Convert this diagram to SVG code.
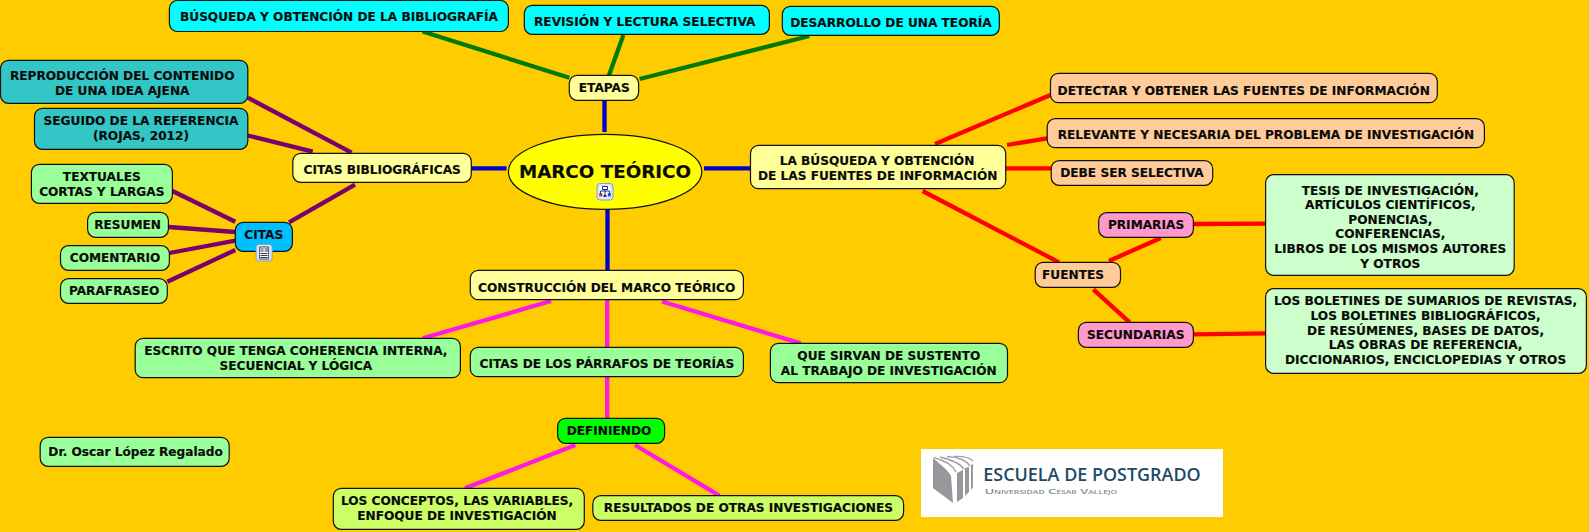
<svg xmlns="http://www.w3.org/2000/svg" xmlns:xlink="http://www.w3.org/1999/xlink" width="1589" height="532" viewBox="0 0 1589 532">
<style>
.n{stroke:#111;stroke-width:1.2}
.t{font-family:"DejaVu Sans","Liberation Sans",sans-serif;font-weight:700;font-size:12.15px;fill:#0a0a0a;text-anchor:middle;stroke:#0a0a0a;stroke-width:0.15}
.cy{fill:#00ffff}.te{fill:#33c6c6}.ye{fill:#ffff99}.gr{fill:#99ff99}.or{fill:#ffcc99}.pi{fill:#ff99cc}.mi{fill:#ccffcc}.li{fill:#ccff66}
.c{fill:none;stroke-width:4.300}
.bl{stroke:#0000cc}.gn{stroke:#007a00}.pu{stroke:#7a0070}.re{stroke:#ff0000}.ma{stroke:#ff19e6}
</style>
<defs>
<g id="ibase"><rect x="0.5" y="0.5" width="16" height="16.5" rx="3" fill="#dfeaff" stroke="#7f9fd0"/><rect x="2.5" y="2.5" width="12" height="12.5" rx="1" fill="#fff" stroke="#bcd0ea" stroke-width="0.6"/></g>
<g id="itree"><use xlink:href="#ibase"/><path d="M6 3.500h5v3H6zM8.500 6.500V8M4 8h9M4 8v2M13 8v2M8.500 8v5" fill="none" stroke="#1a2a88" stroke-width="1"/><rect x="2.800" y="10" width="3" height="3.500" fill="#c03030"/><rect x="11.300" y="10" width="3" height="3.500" fill="#3050c0"/><rect x="7" y="12" width="3" height="2" fill="#1a2a88"/></g>
<g id="idoc"><use xlink:href="#ibase"/><path d="M4 3h9v12H4z" fill="#fff" stroke="#222" stroke-width="0.8"/><rect x="9" y="4" width="3.500" height="4" fill="#7a9ac8"/><path d="M5 5h3M5 7h3M5 9.500h7M5 11.500h7M5 13.500h7" stroke="#222" stroke-width="0.9"/></g>
</defs>
<rect width="1589" height="532" fill="#ffcc00"/>
<g id="connectors">
<path class="c bl" d="M604.500 100V132M704 168.300H750.500M471 168.300H506.500M607.500 210V270.500"/>
<path class="c gn" d="M422.600 31.500L569.300 77.700M623.400 35L608.900 75.500M809.300 36L639.600 79"/>
<path class="c pu" d="M247.800 97.700L351.600 152.700M247.800 135.500L312.700 151.700M355 184.700L289 222.300M172.400 191L235.300 221.700M168.400 227L235.300 232M169.400 253L235.300 240.700M167.300 281.700L235.300 250"/>
<path class="c re" d="M935 144L1050.500 95M1007 145L1047.200 138.300M1005.700 168.300H1051.200M922.600 191L1059 262.300M1108.900 261L1160.800 238M1093.300 289.300L1129.600 322.300M1193.400 224L1265.600 223.700M1193.400 334.300L1265.600 333.300"/>
<path class="c ma" d="M551 301L422.600 338.300M607.200 300V347.300M607.200 376.700V418.300M662 301.500L800.700 343.300M575.400 445L465 488.300M635 445L719.300 495.700"/>
</g>
<g id="n-marco"><ellipse class="n" cx="605.100" cy="171.800" rx="96.700" ry="37.500" fill="#ffff00"/><text class="t" x="605" y="178.300" style="font-size:18.300px">MARCO TEÓRICO</text><use xlink:href="#itree" x="596.500" y="183"/></g>
<g id="n-busqueda-bib"><rect class="n cy" x="169.400" y="0.500" width="339" height="31" rx="8"/><text class="t" x="339" y="21">BÚSQUEDA Y OBTENCIÓN DE LA BIBLIOGRAFÍA</text></g>
<g id="n-revision"><rect class="n cy" x="524.300" y="5.300" width="245.100" height="29" rx="8"/><text class="t" x="644.700" y="26.300">REVISIÓN Y LECTURA SELECTIVA</text></g>
<g id="n-desarrollo"><rect class="n cy" x="782.300" y="6.300" width="217" height="29" rx="8"/><text class="t" x="891" y="27">DESARROLLO DE UNA TEORÍA</text></g>
<g id="n-etapas"><rect class="n ye" x="569.300" y="75.300" width="69.300" height="25" rx="8"/><text class="t" x="604.300" y="92">ETAPAS</text></g>
<g id="n-citas-bib"><rect class="n ye" x="292.800" y="153.300" width="178.500" height="29" rx="8"/><text class="t" x="382.200" y="174.300">CITAS BIBLIOGRÁFICAS</text></g>
<g id="n-reproduccion"><rect class="n te" x="0.500" y="60.300" width="247.300" height="43" rx="8"/><text class="t" x="122.200" y="80.300">REPRODUCCIÓN DEL CONTENIDO</text><text class="t" x="122.200" y="95">DE UNA IDEA AJENA</text></g>
<g id="n-seguido"><rect class="n te" x="34.500" y="108.300" width="213.300" height="41" rx="8"/><text class="t" x="141" y="125">SEGUIDO DE LA REFERENCIA</text><text class="t" x="141" y="139.700">(ROJAS, 2012)</text></g>
<g id="n-textuales"><rect class="n gr" x="31.400" y="164.300" width="141" height="39" rx="8"/><text class="t" x="101.800" y="181">TEXTUALES</text><text class="t" x="101.800" y="195.700">CORTAS Y LARGAS</text></g>
<g id="n-resumen"><rect class="n gr" x="87.600" y="212.300" width="80.800" height="25" rx="8"/><text class="t" x="127.600" y="229">RESUMEN</text></g>
<g id="n-comentario"><rect class="n gr" x="60.500" y="245.700" width="108.900" height="24.600" rx="8"/><text class="t" x="115.100" y="262">COMENTARIO</text></g>
<g id="n-parafraseo"><rect class="n gr" x="60.500" y="278.700" width="106.800" height="24.600" rx="8"/><text class="t" x="114.100" y="295">PARAFRASEO</text></g>
<g id="n-citas"><rect class="n" x="235.300" y="222.300" width="57.100" height="29" rx="8" fill="#00bfff"/><text class="t" x="263.700" y="239.300">CITAS</text><use xlink:href="#idoc" x="255.600" y="244"/></g>
<g id="n-construccion"><rect class="n ye" x="470.300" y="270.300" width="273.100" height="29.400" rx="8"/><text class="t" x="606.700" y="291.700">CONSTRUCCIÓN DEL MARCO TEÓRICO</text></g>
<g id="n-escrito"><rect class="n gr" x="135.200" y="338.300" width="325.200" height="39.400" rx="8"/><text class="t" x="295.800" y="355">ESCRITO QUE TENGA COHERENCIA INTERNA,</text><text class="t" x="295.800" y="369.700">SECUENCIAL Y LÓGICA</text></g>
<g id="n-citas-parrafos"><rect class="n gr" x="470.300" y="347.300" width="273.100" height="29.400" rx="8"/><text class="t" x="606.900" y="368.300">CITAS DE LOS PÁRRAFOS DE TEORÍAS</text></g>
<g id="n-sirvan"><rect class="n gr" x="770.400" y="343.300" width="237.100" height="39.400" rx="8"/><text class="t" x="888.800" y="360.300">QUE SIRVAN DE SUSTENTO</text><text class="t" x="888.800" y="374.700">AL TRABAJO DE INVESTIGACIÓN</text></g>
<g id="n-definiendo"><rect class="n" x="557.600" y="418.300" width="107" height="25" rx="8" fill="#00ff00"/><text class="t" x="609" y="435">DEFINIENDO</text></g>
<g id="n-conceptos"><rect class="n li" x="333.300" y="488.300" width="251" height="41" rx="8"/><text class="t" x="457" y="505">LOS CONCEPTOS, LAS VARIABLES,</text><text class="t" x="457" y="519.700">ENFOQUE DE INVESTIGACIÓN</text></g>
<g id="n-resultados"><rect class="n li" x="592.800" y="495.700" width="310.800" height="24.600" rx="8"/><text class="t" x="748.400" y="512">RESULTADOS DE OTRAS INVESTIGACIONES</text></g>
<g id="n-autor"><rect class="n gr" x="40.200" y="437.300" width="189" height="29" rx="8"/><text class="t" x="135.600" y="456">Dr. Oscar López Regalado</text></g>
<g id="n-busqueda-fuentes"><rect class="n ye" x="750.500" y="145.300" width="255.200" height="43.400" rx="8"/><text class="t" x="877" y="165.300">LA BÚSQUEDA Y OBTENCIÓN</text><text class="t" x="877.700" y="180">DE LAS FUENTES DE INFORMACIÓN</text></g>
<g id="n-detectar"><rect class="n or" x="1050.500" y="73.300" width="386.800" height="29.400" rx="8"/><text class="t" x="1243.700" y="94.700">DETECTAR Y OBTENER LAS FUENTES DE INFORMACIÓN</text></g>
<g id="n-relevante"><rect class="n or" x="1047.200" y="118.700" width="437.200" height="29" rx="8"/><text class="t" x="1266" y="138.700">RELEVANTE Y NECESARIA DEL PROBLEMA DE INVESTIGACIÓN</text></g>
<g id="n-debe"><rect class="n or" x="1051.200" y="160.700" width="161.500" height="24.600" rx="8"/><text class="t" x="1132" y="177.300">DEBE SER SELECTIVA</text></g>
<g id="n-fuentes"><rect class="n or" x="1035.200" y="262.300" width="85.300" height="25" rx="8"/><text class="t" x="1073" y="279">FUENTES</text></g>
<g id="n-primarias"><rect class="n pi" x="1098.700" y="212.700" width="94.700" height="24.600" rx="8"/><text class="t" x="1146" y="229.300">PRIMARIAS</text></g>
<g id="n-secundarias"><rect class="n pi" x="1078.400" y="322.300" width="115" height="25" rx="8"/><text class="t" x="1135.800" y="339.300">SECUNDARIAS</text></g>
<g id="n-tesis"><rect class="n mi" x="1265.600" y="174.700" width="248.600" height="100.600" rx="8"/>
<text class="t" x="1390.300" y="194.700">TESIS DE INVESTIGACIÓN,</text><text class="t" x="1390.300" y="209.300">ARTÍCULOS CIENTÍFICOS,</text><text class="t" x="1390.300" y="224">PONENCIAS,</text><text class="t" x="1390.300" y="238.300">CONFERENCIAS,</text><text class="t" x="1390.300" y="253">LIBROS DE LOS MISMOS AUTORES</text><text class="t" x="1390.300" y="267.700">Y OTROS</text></g>
<g id="n-boletines"><rect class="n mi" x="1265.600" y="288.700" width="320.800" height="84.600" rx="8"/>
<text class="t" x="1425.600" y="305.300">LOS BOLETINES DE SUMARIOS DE REVISTAS,</text><text class="t" x="1425.600" y="320">LOS BOLETINES BIBLIOGRÁFICOS,</text><text class="t" x="1425.600" y="334.700">DE RESÚMENES, BASES DE DATOS,</text><text class="t" x="1425.600" y="349">LAS OBRAS DE REFERENCIA,</text><text class="t" x="1425.600" y="364">DICCIONARIOS, ENCICLOPEDIAS Y OTROS</text></g>
<g id="logo"><rect x="921" y="449" width="302" height="68" fill="#fff"/>
<path d="M933 458C941 465 948 470 951 476L953 503L933 488Z" fill="#98989c"/>
<path d="M957 473L963 470V498L957 502Z M965 468L969 467V492L965 496Z M971 465L973 464V487L971 490Z" fill="#98989c"/>
<path d="M934 457.500C948 462 953 466 956 472M940 457C952 460 960 463 964 469M947 456.500C958 457 966 460 970 466M954 456.500C962 456 969 457 973 461" fill="none" stroke="#a2a2a6" stroke-width="1.400"/>
<text x="983.300" y="480.700" textLength="217.400" lengthAdjust="spacingAndGlyphs" style="font-family:'Open Sans','Liberation Sans',sans-serif;font-size:18.500px;fill:#1c4a68;font-weight:600">ESCUELA DE POSTGRADO</text>
<text x="984.700" y="494" textLength="132.600" lengthAdjust="spacingAndGlyphs" style="font-family:'Open Sans','Liberation Sans',sans-serif;font-size:7.500px;fill:#8a8a8a;font-weight:600;font-variant:small-caps">Universidad César Vallejo</text></g>
</svg>
